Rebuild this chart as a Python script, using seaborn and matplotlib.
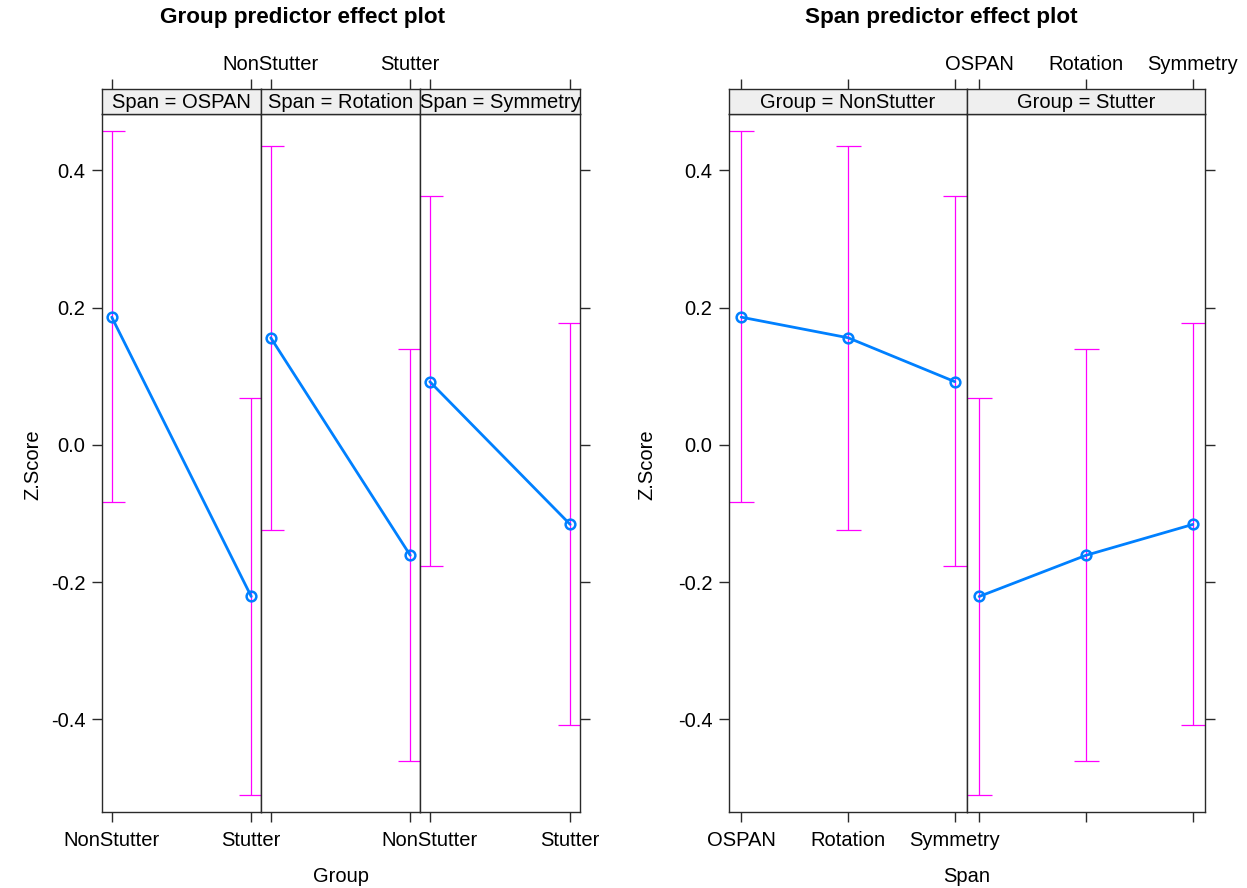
import numpy as np
import pandas as pd
import matplotlib
matplotlib.use("Agg")
import matplotlib.pyplot as plt
import seaborn as sns

sns.set_style("white")
plt.rcParams['font.family'] = ['Liberation Sans', 'DejaVu Sans']
plt.rcParams['text.color'] = 'black'
plt.rcParams['xtick.color'] = 'black'
plt.rcParams['ytick.color'] = 'black'
plt.rcParams['axes.labelcolor'] = 'black'

# ---- data ----
groups = ["NonStutter", "Stutter"]
spans = ["OSPAN", "Rotation", "Symmetry"]
fit_nonstutter = [0.186, 0.156, 0.092]
fit_stutter = [-0.221, -0.161, -0.116]
lower_nonstutter = [-0.084, -0.124, -0.177]
lower_stutter = [-0.510, -0.460, -0.408]
upper_nonstutter = [0.457, 0.435, 0.362]
upper_stutter = [0.068, 0.139, 0.177]
yticks = [-0.4, -0.2, 0.0, 0.2, 0.4]
ytick_labels = ["-0.4", "-0.2", "0.0", "0.2", "0.4"]

rows = []
for gi, g in enumerate(groups):
    fits = fit_nonstutter if gi == 0 else fit_stutter
    lows = lower_nonstutter if gi == 0 else lower_stutter
    ups = upper_nonstutter if gi == 0 else upper_stutter
    for si, s in enumerate(spans):
        rows.append(dict(Group=g, Span=s, gcode=gi, scode=si,
                         fit=fits[si], lower=lows[si], upper=ups[si]))
df = pd.DataFrame(rows)

BLUE = "#0080ff"
MAG = "#ff00ff"
FRAME = "#2a2a2a"
STRIP_BG = "#efefef"
FS = 14.5

W, H = 1247, 888
fig = plt.figure(figsize=(W / 100, H / 100), dpi=100)

ylim = (-0.535, 0.482)
panel_top, panel_bot = 114, 812
strip_top = 89


def fx(px):
    return px / W


def fy(py):
    return 1 - py / H


def make_panel(x0, x1):
    ax = fig.add_axes([fx(x0), fy(panel_bot), fx(x1) - fx(x0), fy(panel_top) - fy(panel_bot)])
    st = fig.add_axes([fx(x0), fy(panel_top), fx(x1) - fx(x0), fy(strip_top) - fy(panel_top)])
    for a in (ax, st):
        for sp in a.spines.values():
            sp.set_color(FRAME)
            sp.set_linewidth(1.0)
    st.set_facecolor(STRIP_BG)
    st.set_yticks([])
    return ax, st


def draw(ax, sub, xcol):
    ax.errorbar(sub[xcol], sub["fit"],
                yerr=[sub["fit"] - sub["lower"], sub["upper"] - sub["fit"]],
                fmt="none", ecolor=MAG, elinewidth=0.9, capsize=9, capthick=0.9, zorder=1)
    sns.lineplot(data=sub, x=xcol, y="fit", ax=ax, color=BLUE, lw=2.0, zorder=2,
                 marker="o", markersize=7, markerfacecolor="none",
                 markeredgecolor=BLUE, markeredgewidth=1.8, legend=False)


def style_axes(ax, st, xlim, ticks, labels, bottom_labels, top_labels, left, right):
    ax.set_xlim(*xlim)
    st.set_xlim(*xlim)
    ax.set_ylim(*ylim)
    ax.set_xlabel("")
    ax.set_ylabel("")
    ax.set_xticks(ticks)
    ax.set_xticklabels(labels if bottom_labels else [""] * len(ticks), fontsize=FS)
    ax.tick_params(axis="x", bottom=True, top=False, direction="out", length=7,
                   width=1.0, color=FRAME, pad=7)
    st.set_xticks(ticks)
    st.xaxis.tick_top()
    st.set_xticklabels(labels if top_labels else [""] * len(ticks), fontsize=FS)
    st.tick_params(axis="x", top=True, bottom=False, direction="out", length=7,
                   width=1.0, color=FRAME, pad=4)
    ax.set_yticks(yticks)
    ax.set_yticklabels(ytick_labels if left else [""] * len(yticks), fontsize=FS)
    ax.tick_params(axis="y", left=left, right=right, labelleft=left, labelright=False,
                   direction="out", length=7, width=1.0, color=FRAME, pad=5)


# ---- left figure: Group predictor effect plot ----
left_edges = [102, 261, 420, 580]
for si, s in enumerate(spans):
    ax, st = make_panel(left_edges[si], left_edges[si + 1])
    sub = df[df["Span"] == s]
    draw(ax, sub, "gcode")
    style_axes(ax, st, (-0.07, 1.07), [0, 1], groups,
               bottom_labels=(si != 1), top_labels=(si == 1),
               left=(si == 0), right=(si == 2))
    st.text(0.5, 0.45, f"Span = {s}", transform=st.transAxes, ha="center", va="center",
            fontsize=FS)

# ---- right figure: Span predictor effect plot ----
right_edges = [729, 967, 1205]
for gi, g in enumerate(groups):
    ax, st = make_panel(right_edges[gi], right_edges[gi + 1])
    sub = df[df["Group"] == g]
    draw(ax, sub, "scode")
    style_axes(ax, st, (-0.114, 2.114), [0, 1, 2], spans,
               bottom_labels=(gi == 0), top_labels=(gi == 1),
               left=(gi == 0), right=(gi == 1))
    st.text(0.5, 0.45, f"Group = {g}", transform=st.transAxes, ha="center", va="center",
            fontsize=FS)

# titles and axis labels
fig.text(fx(303), fy(18), "Group predictor effect plot", ha="center", va="center",
         fontsize=16.2, fontweight="bold")
fig.text(fx(941), fy(18), "Span predictor effect plot", ha="center", va="center",
         fontsize=16.2, fontweight="bold")
fig.text(fx(341), fy(876), "Group", ha="center", va="center", fontsize=FS)
fig.text(fx(967), fy(876), "Span", ha="center", va="center", fontsize=FS)
fig.text(fx(33), fy(465), "Z.Score", ha="center", va="center", fontsize=FS, rotation=90)
fig.text(fx(647), fy(465), "Z.Score", ha="center", va="center", fontsize=FS, rotation=90)

fig.savefig("out.png", dpi=100, facecolor="white")
